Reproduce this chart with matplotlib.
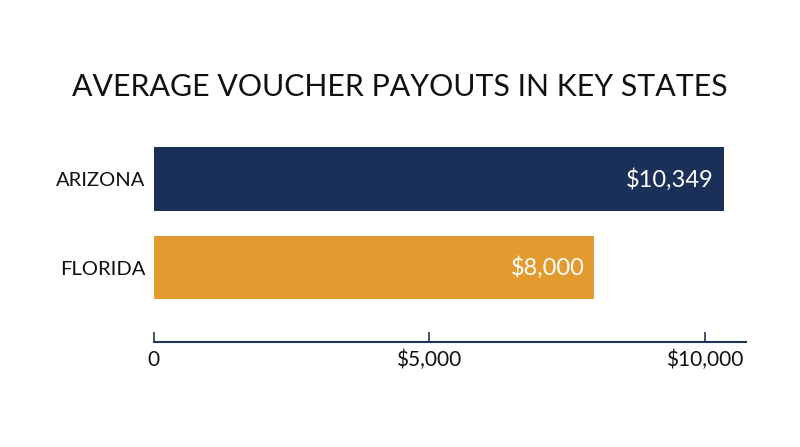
import matplotlib
matplotlib.use("Agg")
import matplotlib.pyplot as plt
from matplotlib.ticker import FuncFormatter

states = ["ARIZONA", "FLORIDA"]
payouts = [10349, 8000]
bar_colors = ["#1a3058", "#e39b30"]
ticks = [0, 5000, 10000]
title = "AVERAGE VOUCHER PAYOUTS IN KEY STATES"

plt.rcParams["font.family"] = ["Lato", "DejaVu Sans"]

fig = plt.figure(figsize=(8, 4.47), dpi=100)
ax = fig.add_axes([0.192, 0.2356, 0.740, 0.473])

ypos = list(range(len(states)))
ax.barh(ypos, payouts, height=0.72, color=bar_colors)
ax.set_ylim(1.838, -0.554)
ax.set_xlim(0, 10746)

for y, v in zip(ypos, payouts):
    ax.annotate(f"${v:,}", xy=(v, y), xytext=(-7, 0), textcoords="offset points",
                ha="right", va="center", color="white", fontsize=17)

ax.set_yticks(ypos)
ax.set_yticklabels(states, fontsize=14.5, color="#111111")
ax.tick_params(axis="y", length=0, pad=6)

ax.set_xticks(ticks)
ax.xaxis.set_major_formatter(FuncFormatter(lambda v, p: "0" if v == 0 else f"${v:,.0f}"))
ax.tick_params(axis="x", direction="in", length=7, width=1.2, color="#1f3556",
               labelsize=15, labelcolor="#111111", pad=6)

for side in ["top", "right", "left"]:
    ax.spines[side].set_visible(False)
ax.spines["bottom"].set_color("#1f3556")
ax.spines["bottom"].set_linewidth(1.5)

fig.text(0.5, 0.805, title, ha="center", va="center", fontsize=21.8, color="#111111")

fig.savefig("out.png", dpi=100, facecolor="white")
